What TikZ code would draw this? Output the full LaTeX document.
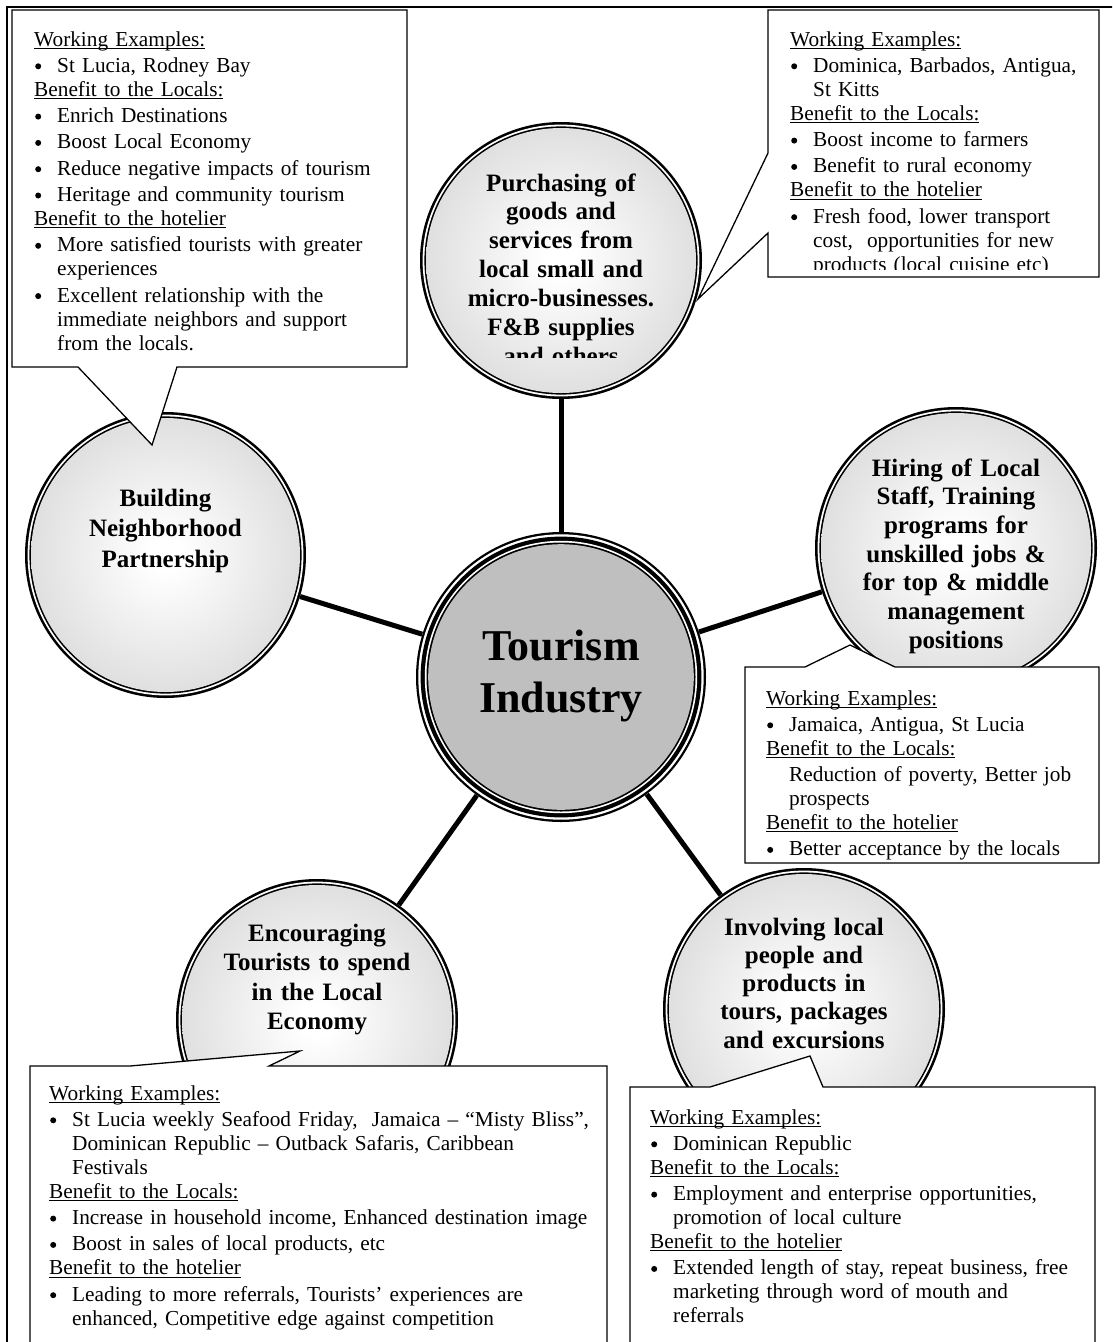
\documentclass[tikz,border=0pt]{standalone}
\usepackage{fontspec}
\setmainfont{Liberation Serif}
\usetikzlibrary{shapes.geometric}

\definecolor{rimgray}{gray}{0.69}
\definecolor{midgray}{gray}{0.86}
\definecolor{hubgray}{gray}{0.75}
\pgfdeclareradialshading{bubbleshade}{\pgfpointorigin}{color(0bp)=(white); color(3bp)=(white); color(28bp)=(midgray); color(50bp)=(rimgray)}

% round bullet mark
\newcommand\dotmark{\tikz[baseline=0pt]\fill (3pt,6pt) circle [radius=3pt];}
% underlined heading line inside a note
\newcommand\ulhead[1]{\par\noindent\setbox0=\hbox{#1}\rlap{\rule[-2.6pt]{\wd0}{0.9pt}}\box0\par}
% bulleted item with hanging indent
\newcommand\bitem[1]{\par\vspace{2.3pt}\hangindent=23pt\hangafter=1\noindent\hbox to 23pt{\hskip1pt\dotmark\hfil}#1\par}
% indented item without bullet
\newcommand\pitem[1]{\par\vspace{2.3pt}\hangindent=23pt\hangafter=1\noindent\hbox to 23pt{\hfil}#1\par}

% ringed, shaded bubble around a named node
\newcommand\drawbubble[3]{%
  \fill[black] (#1.center) ellipse [x radius=#2pt, y radius=#3pt];
  \fill[white] (#1.center) ellipse [x radius=#2pt-2.6pt, y radius=#3pt-2.6pt];
  \fill[black] (#1.center) ellipse [x radius=#2pt-4.4pt, y radius=#3pt-4.4pt];
  \shade[shading=bubbleshade] (#1.center) ellipse [x radius=#2pt-6pt, y radius=#3pt-6pt];
}

\tikzset{
  hub/.style={ellipse, inner sep=0pt, draw=none},
  link/.style={line width=5pt},
  callout/.style={draw, fill=white, line width=1.3pt, line join=miter, miter limit=10},
  notes/.style={anchor=base west, inner sep=0pt, text width=600pt, font=\fontsize{21.3}{24}\selectfont},
  bubbletext/.style={anchor=base, inner sep=0pt, text width=300pt, align=center},
}

\begin{document}
\begin{tikzpicture}[x=1pt,y=-1pt]
\clip (0,0) rectangle (1112,1342);
\fill[white] (0,0) rectangle (1112,1342);

% page frame
\draw[line width=2.2pt] (7,1400) -- (7,7) -- (1200,7);

% bubble outlines used as connector ends
\node[hub, minimum width=290pt, minimum height=290pt] (ctr) at (561,677) {};
\node[hub, minimum width=282pt, minimum height=277pt] (buy) at (561,260.5) {};
\node[hub, minimum width=281pt, minimum height=286pt] (nbr) at (165.5,555) {};
\node[hub, minimum width=282pt, minimum height=282pt] (hire) at (956,548) {};
\node[hub, minimum width=282pt, minimum height=282pt] (spend) at (317,1020) {};
\node[hub, minimum width=282pt, minimum height=282pt] (tour) at (804,1009) {};

% spokes
\draw[link] (buy) -- (ctr);
\draw[link] (nbr) -- (ctr);
\draw[link] (hire) -- (ctr);
\draw[link] (spend) -- (ctr);
\draw[link] (tour) -- (ctr);

% central hub with triple ring
\fill[black] (ctr.center) circle [radius=145pt];
\fill[white] (ctr.center) circle [radius=142.7pt];
\fill[black] (ctr.center) circle [radius=140.4pt];
\fill[white] (ctr.center) circle [radius=136.2pt];
\fill[black] (ctr.center) circle [radius=134.5pt];
\fill[hubgray] (ctr.center) circle [radius=132.8pt];

% outer bubbles
\drawbubble{buy}{141}{138.5}
\drawbubble{nbr}{140.5}{143}
\drawbubble{hire}{141}{141}
\drawbubble{spend}{141}{141}
\drawbubble{tour}{141}{141}

% callout boxes
\draw[callout] (12,10) -- (407,10) -- (407,367) -- (177,367) -- (152,445) -- (78,367) -- (12,367) -- cycle;
\draw[callout] (768,10) -- (1099,10) -- (1099,277) -- (768,277) -- (768,233) -- (698,299) -- (768,153) -- cycle;
\draw[callout] (745,667) -- (805,667) -- (850,645) -- (895,667) -- (1099,667) -- (1099,863) -- (745,863) -- cycle;
\draw[callout] (30,1066) -- (130,1066) -- (300,1051) -- (269,1066) -- (607,1066) -- (607,1400) -- (30,1400) -- cycle;
\draw[callout] (630,1087) -- (710,1087) -- (810,1056) -- (823,1087) -- (1095,1087) -- (1095,1400) -- (630,1400) -- cycle;

% bubble captions
\node[bubbletext, font=\bfseries\fontsize{44}{52}\selectfont] (ctrtext) at (561,660) {Tourism\\Industry};
\begin{scope}
  \clip (400,100) rectangle (720,357);
  \node[bubbletext, font=\bfseries\fontsize{25}{28.9}\selectfont] (buytext) at (561,191)
    {Purchasing of\\goods and\\services from\\local small and\\micro-businesses.\\F\&B supplies\\and others};
\end{scope}
\node[bubbletext, font=\bfseries\fontsize{25}{30.5}\selectfont] (nbrtext) at (165.5,506)
  {Building\\Neighborhood\\Partnership};
\node[bubbletext, font=\bfseries\fontsize{25}{28.7}\selectfont] (hiretext) at (956,476)
  {Hiring of Local\\Staff, Training\\programs for\\unskilled jobs \&\\for top \& middle\\management\\positions};
\node[bubbletext, font=\bfseries\fontsize{25}{29.5}\selectfont] (spendtext) at (317,941)
  {Encouraging\\Tourists to spend\\in the Local\\Economy};
\node[bubbletext, font=\bfseries\fontsize{25}{28.3}\selectfont] (tourtext) at (804,935)
  {Involving local\\people and\\products in\\tours, packages\\and excursions};

% callout texts (the node's base sits 17pt above the first baseline)
\node[notes] (nbrnote) at (34,22) {%
  \ulhead{Working Examples:}
  \bitem{St Lucia, Rodney Bay}
  \ulhead{Benefit to the Locals:}
  \bitem{Enrich Destinations}
  \bitem{Boost Local Economy}
  \bitem{Reduce negative impacts of tourism}
  \bitem{Heritage and community tourism}
  \ulhead{Benefit to the hotelier}
  \bitem{More satisfied tourists with greater\newline experiences}
  \bitem{Excellent relationship with the\newline immediate neighbors and support\newline from the locals.}};

\begin{scope}
  \clip (768,10) rectangle (1099,269.5);
  \node[notes] (buynote) at (790,22) {%
    \ulhead{Working Examples:}
    \bitem{Dominica, Barbados, Antigua,\newline St Kitts}
    \ulhead{Benefit to the Locals:}
    \bitem{Boost income to farmers}
    \bitem{Benefit to rural economy}
    \ulhead{Benefit to the hotelier}
    \bitem{Fresh food, lower transport\newline cost,\ \ opportunities for new\newline products (local cuisine etc)}};
\end{scope}

\node[notes] (hirenote) at (766,681) {%
  \ulhead{Working Examples:}
  \bitem{Jamaica, Antigua, St Lucia}
  \ulhead{Benefit to the Locals:}
  \pitem{Reduction of poverty, Better job\newline prospects}
  \ulhead{Benefit to the hotelier}
  \bitem{Better acceptance by the locals}};

\node[notes] (spendnote) at (49,1076) {%
  \ulhead{Working Examples:}
  \bitem{St Lucia weekly Seafood Friday,\ \ Jamaica – “Misty Bliss”,\newline Dominican Republic – Outback Safaris, Caribbean\newline Festivals}
  \ulhead{Benefit to the Locals:}
  \bitem{Increase in household income, Enhanced destination image}
  \bitem{Boost in sales of local products, etc}
  \ulhead{Benefit to the hotelier}
  \bitem{Leading to more referrals, Tourists’ experiences are\newline enhanced, Competitive edge against competition}};

\node[notes] (tournote) at (650,1100) {%
  \ulhead{Working Examples:}
  \bitem{Dominican Republic}
  \ulhead{Benefit to the Locals:}
  \bitem{Employment and enterprise opportunities,\newline promotion of local culture}
  \ulhead{Benefit to the hotelier}
  \bitem{Extended length of stay, repeat business, free\newline marketing through word of mouth and\newline referrals}};

\end{tikzpicture}
\end{document}
